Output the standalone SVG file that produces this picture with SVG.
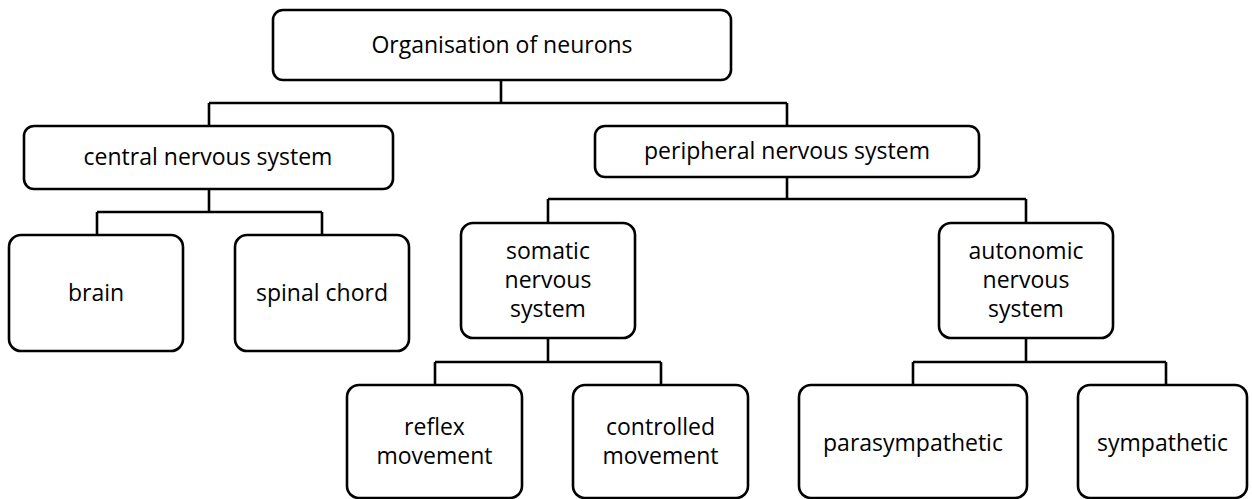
<svg xmlns="http://www.w3.org/2000/svg" width="1252" height="499" viewBox="0 0 1252 499">
<style>
.box{fill:#fff;stroke:#000;stroke-width:2.6}
.lbl{font-family:"Open Sans","Noto Sans","Liberation Sans",sans-serif;font-size:23px;fill:#000;text-anchor:middle}
.con{fill:none;stroke:#000;stroke-width:2.6}
</style>
<rect width="1252" height="499" fill="#fff"/>
<g id="connectors">
<path class="con" d="M501,80V103M209,103H787M209,103V126M787,103V126"/>
<path class="con" d="M209,189V212M97,212H322M97,212V235M322,212V235"/>
<path class="con" d="M787,177V199M548,199H1026M548,199V223M1026,199V223"/>
<path class="con" d="M548,338V362M435,362H661M435,362V385M661,362V385"/>
<path class="con" d="M1026,338V362M913,362H1166M913,362V385M1166,362V385"/>
</g>
<g id="n-root"><rect class="box" x="273" y="10" width="458" height="70" rx="10"/><text class="lbl" x="502" y="53">Organisation of neurons</text></g>
<g id="n-cns"><rect class="box" x="24" y="126" width="369" height="63" rx="10"/><text class="lbl" x="208" y="165">central nervous system</text></g>
<g id="n-pns"><rect class="box" x="595" y="126" width="384" height="51" rx="10"/><text class="lbl" x="787" y="159">peripheral nervous system</text></g>
<g id="n-brain"><rect class="box" x="9" y="235" width="174" height="116" rx="12"/><text class="lbl" x="96" y="301">brain</text></g>
<g id="n-spinal"><rect class="box" x="235" y="235" width="174" height="116" rx="12"/><text class="lbl" x="322" y="301">spinal chord</text></g>
<g id="n-somatic"><rect class="box" x="461" y="223" width="174" height="115" rx="12"/><text class="lbl" x="548" y="259">somatic</text><text class="lbl" x="548" y="288">nervous</text><text class="lbl" x="548" y="317">system</text></g>
<g id="n-autonomic"><rect class="box" x="939" y="223" width="174" height="115" rx="12"/><text class="lbl" x="1026" y="259">autonomic</text><text class="lbl" x="1026" y="288">nervous</text><text class="lbl" x="1026" y="317">system</text></g>
<g id="n-reflex"><rect class="box" x="347" y="385" width="175" height="113" rx="12"/><text class="lbl" x="434.5" y="435">reflex</text><text class="lbl" x="434.5" y="464">movement</text></g>
<g id="n-controlled"><rect class="box" x="573" y="385" width="175" height="113" rx="12"/><text class="lbl" x="660.5" y="435">controlled</text><text class="lbl" x="660.5" y="464">movement</text></g>
<g id="n-para"><rect class="box" x="799" y="385" width="228" height="113" rx="12"/><text class="lbl" x="913" y="451">parasympathetic</text></g>
<g id="n-symp"><rect class="box" x="1078" y="385" width="169" height="113" rx="12"/><text class="lbl" x="1162.5" y="451">sympathetic</text></g>
</svg>
